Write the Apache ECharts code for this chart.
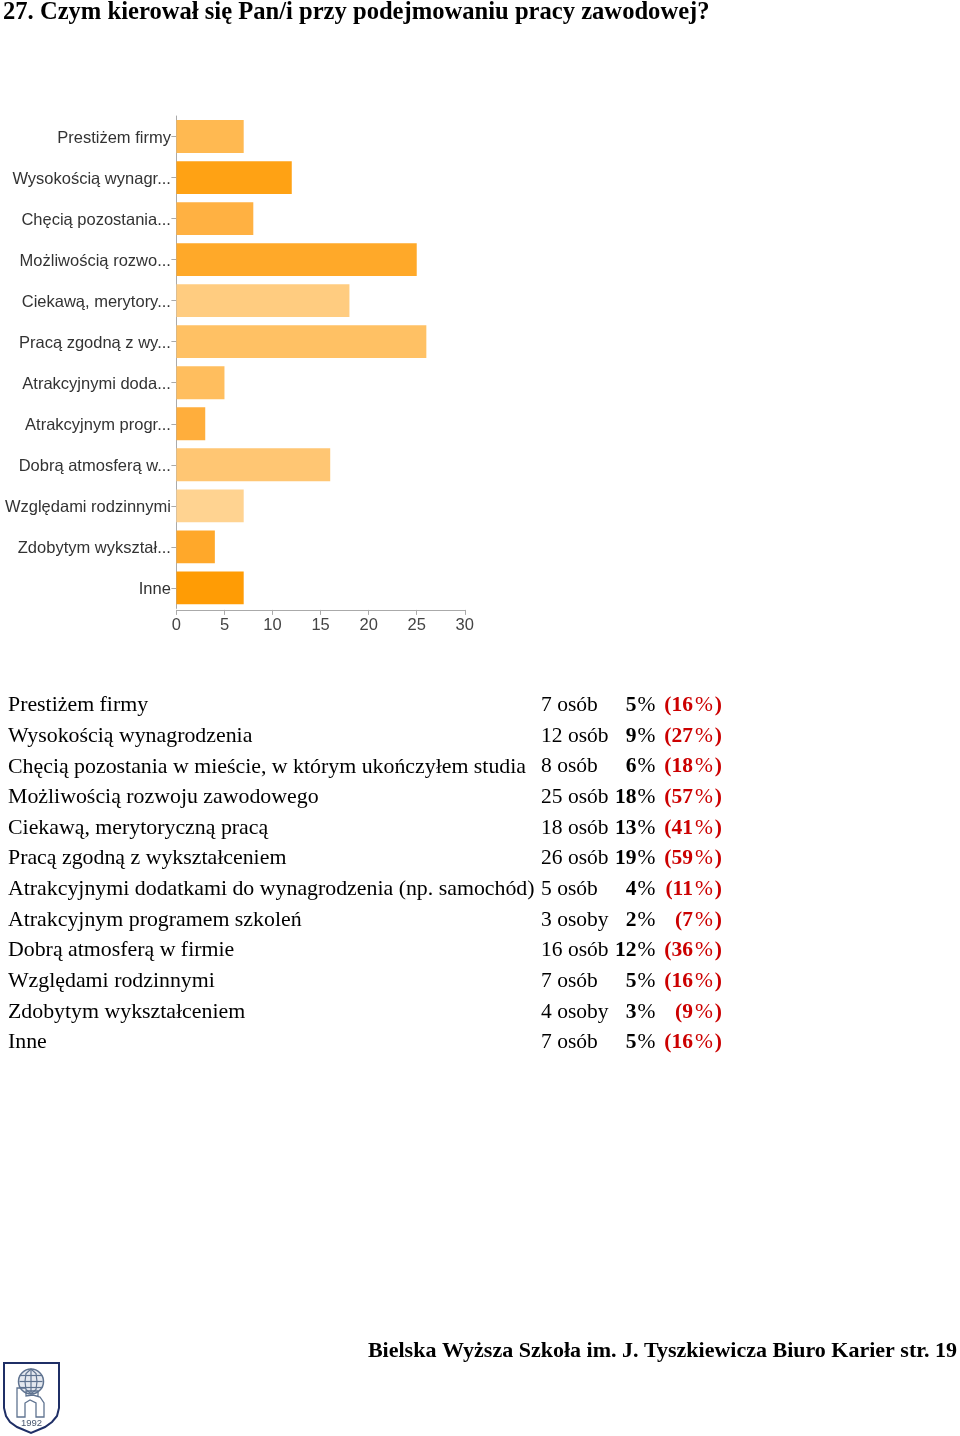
<!DOCTYPE html>
<html><head><meta charset="utf-8">
<style>html,body{margin:0;padding:0;background:#fff}#c{width:960px;height:1436px}</style>
<script src="https://cdn.jsdelivr.net/npm/echarts@6/dist/echarts.min.js"></script>
</head><body><div id="c"></div>
<script>
const title = '27. Czym kierował się Pan/i przy podejmowaniu pracy zawodowej?';
const footer = 'Bielska Wyższa Szkoła im. J. Tyszkiewicza Biuro Karier str. 19';
const categories = ['Prestiżem firmy','Wysokością wynagr...','Chęcią pozostania...','Możliwością rozwo...','Ciekawą, merytory...','Pracą zgodną z wy...','Atrakcyjnymi doda...','Atrakcyjnym progr...','Dobrą atmosferą w...','Względami rodzinnymi','Zdobytym wykształ...','Inne'];
const counts = [7,12,8,25,18,26,5,3,16,7,4,7];
const barColors = ['#ffb951','#ffa214','#ffb142','#ffa929','#ffcc80','#ffc164','#ffbe5e','#ffae3c','#ffc673','#ffd391','#ffa82a','#ff9c05'];
const fullNames = ['Prestiżem firmy','Wysokością wynagrodzenia','Chęcią pozostania w mieście, w którym ukończyłem studia','Możliwością rozwoju zawodowego','Ciekawą, merytoryczną pracą','Pracą zgodną z wykształceniem','Atrakcyjnymi dodatkami do wynagrodzenia (np. samochód)','Atrakcyjnym programem szkoleń','Dobrą atmosferą w firmie','Względami rodzinnymi','Zdobytym wykształceniem','Inne'];
const countLabels = ['7 osób','12 osób','8 osób','25 osób','18 osób','26 osób','5 osób','3 osoby','16 osób','7 osób','4 osoby','7 osób'];
const shares = ['5%','9%','6%','18%','13%','19%','4%','2%','12%','5%','3%','5%'];
const respondentShares = ['(16%)','(27%)','(18%)','(57%)','(41%)','(59%)','(11%)','(7%)','(36%)','(16%)','(9%)','(16%)'];

const serif = '"Liberation Serif"', sans = '"Liberation Sans"';
const T = (x,y,text,o={}) => ({type:'text',x,y,silent:true,style:{text,fill:o.fill||'#000',font:(o.weight||'normal')+' '+(o.size||21.5)+'px '+serif,align:o.align||'left',verticalAlign:'middle'}});
// number in bold, percent sign in regular weight with slight spacing
const R = (x,y,text,fill,pad) => ({type:'text',x,y,silent:true,style:{
  text:text.replace(/(\d+)%/,'{b|$1}{p|%}').replace('(','{b|(}').replace(/\)$/,'{b|)}'),
  align:'right',verticalAlign:'middle',
  rich:{b:{fill,font:'bold 21.5px '+serif},p:{fill,font:'normal 21.5px '+serif,padding:[0,pad,0,pad]}}}});
const g = [];
g.push(T(3,12.5,title,{weight:'bold',size:24.6}));
g.push(T(957,1351,footer,{weight:'bold',size:22,align:'right'}));
fullNames.forEach((n,i)=>{
  const y = 705.5 + i*30.65;
  g.push(T(8,y,n,{size:21.85}));
  g.push(T(541,y,countLabels[i]));
  g.push(R(656.5,y,shares[i],'#000',1));
  g.push(R(722,y,respondentShares[i],'#cc0000',2));
});
// logo
const navy='#1f2f66', steel='#5f7390';
g.push({type:'polygon',shape:{points:[[4,1363],[59,1363],[59,1408],[57,1416],[52,1422],[45,1427],[31,1433],[17,1427],[10,1422],[6,1416],[4,1408]]},style:{fill:'#fff',stroke:navy,lineWidth:2}});
g.push({type:'circle',shape:{cx:31,cy:1381.5,r:12.5},style:{fill:'#e4e8ef',stroke:steel,lineWidth:1.5}});
g.push({type:'polygon',shape:{points:[[31,1369],[26,1373.5],[25,1381.5],[26,1389.5],[31,1394],[36,1389.5],[37,1381.5],[36,1373.5]]},style:{fill:'none',stroke:steel,lineWidth:1.2}});
[1375.5,1381.5,1387.5].forEach(y=>g.push({type:'line',shape:{x1:19.5,y1:y,x2:42.5,y2:y},style:{stroke:steel,lineWidth:1.2}}));
g.push({type:'line',shape:{x1:31,y1:1369,x2:31,y2:1394},style:{stroke:steel,lineWidth:1.2}});
g.push({type:'polyline',shape:{points:[[26,1388],[17,1388],[17,1417],[25,1417],[25,1403],[30,1400],[36,1403],[36,1417],[44,1417],[44,1403],[40,1397],[33,1395],[26,1396],[26,1391],[38,1391],[38,1396]]},style:{fill:'none',stroke:steel,lineWidth:1.3}});
g.push({type:'text',x:31.5,y:1423.5,silent:true,style:{text:'1992',fill:'#4a5870',font:'normal 9.5px '+sans,align:'center',verticalAlign:'middle'}});

const chart = echarts.init(document.getElementById('c'),null,{renderer:'canvas'});
chart.setOption({
  animation:false,
  grid:{left:176.4,top:116,width:288.4,height:492.4,containLabel:false},
  xAxis:{type:'value',min:0,max:30,interval:5,offset:1.5,splitLine:{show:false},
    axisLine:{show:true,lineStyle:{color:'#aaa',width:1}},axisTick:{show:true,length:5,lineStyle:{color:'#aaa'}},
    axisLabel:{color:'#444',fontFamily:sans,fontSize:16.5,margin:7,showMinLabel:true,showMaxLabel:true}},
  yAxis:{type:'category',inverse:true,data:categories,
    axisLine:{show:true,lineStyle:{color:'#aaa',width:1}},axisTick:{show:true,length:5,alignWithLabel:true,lineStyle:{color:'#aaa'}},
    axisLabel:{margin:5.5,interval:0,formatter:v=>'{a|'+v+'}',
      rich:{a:{color:'#333',fontFamily:sans,fontSize:16.5,padding:[4,0,0,0]}}}},
  series:[{type:'bar',barCategoryGap:'20%',data:counts.map((v,i)=>({value:v,itemStyle:{color:barColors[i]}}))}],
  graphic:g
});
</script></body></html>
